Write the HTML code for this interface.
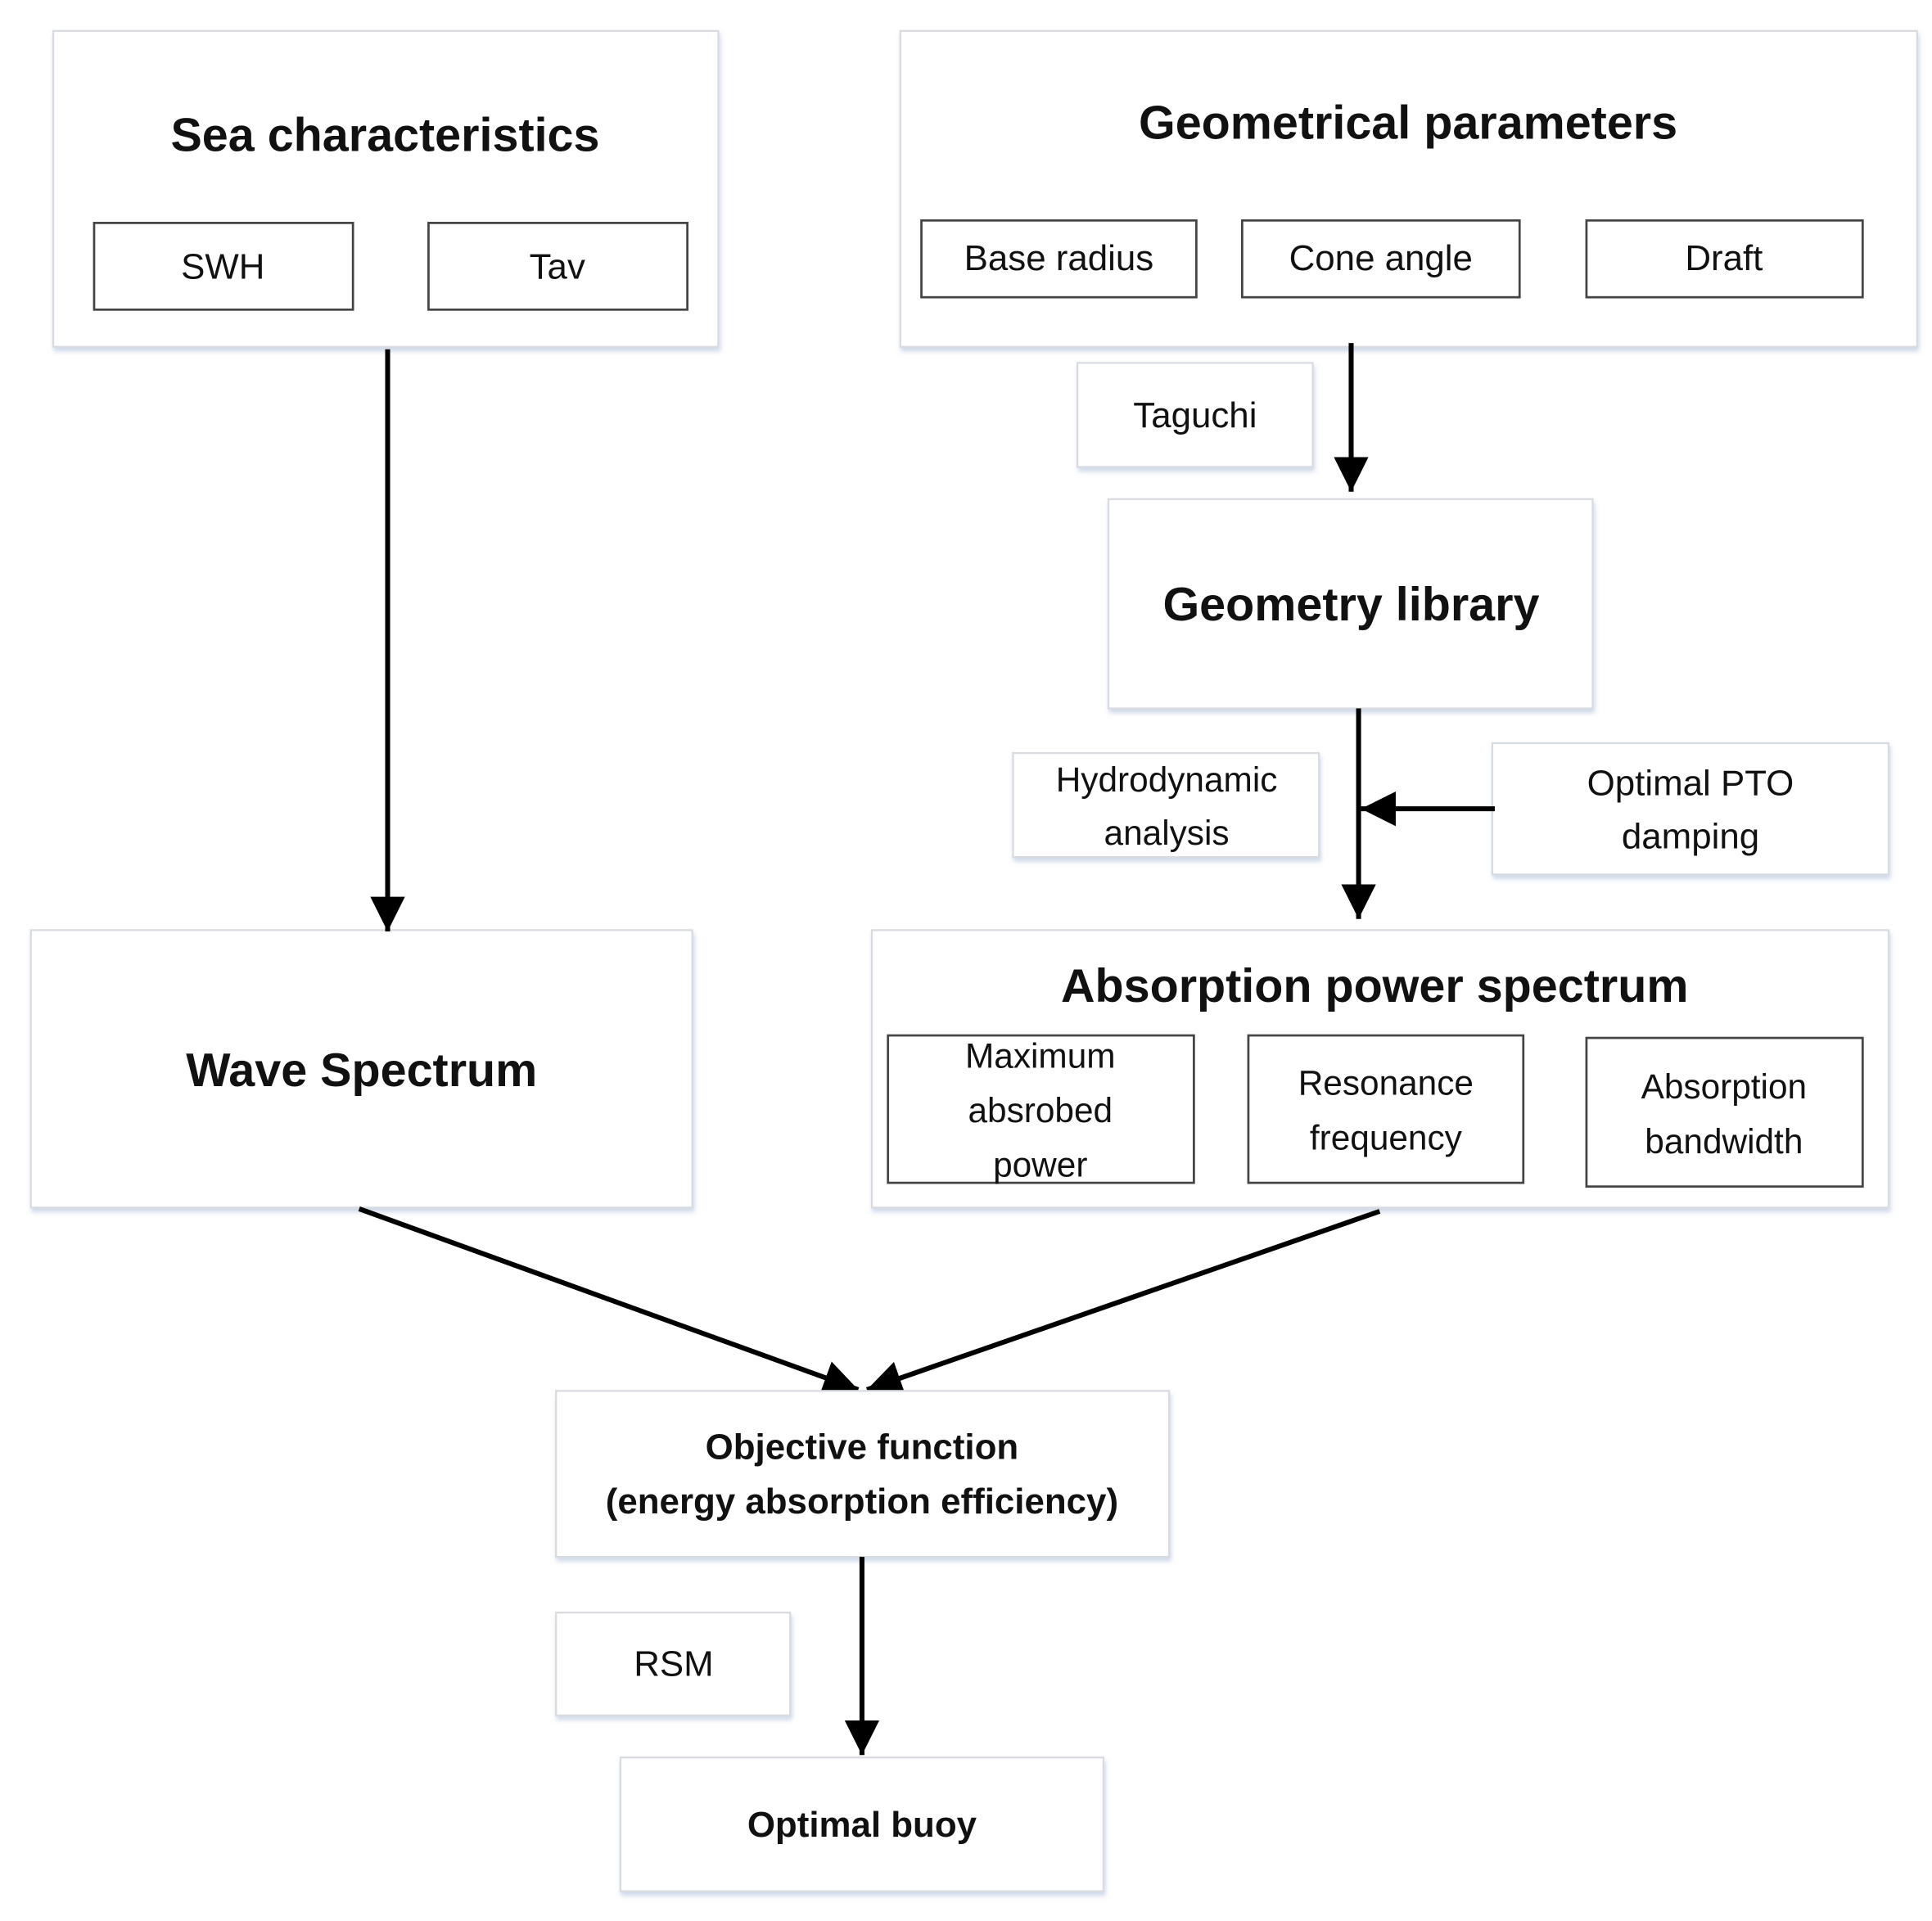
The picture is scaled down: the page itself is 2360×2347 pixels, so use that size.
<!DOCTYPE html>
<html><head><meta charset="utf-8"><style>
html,body{margin:0;padding:0;background:#fff;}
svg{display:block;}
text{font-family:"Liberation Sans",sans-serif;fill:#111;text-anchor:middle;}
.o{fill:#fff;stroke:#d8dbe0;stroke-width:1.5;filter:url(#sh);}
.i{fill:#fff;stroke:#444;stroke-width:1.8;}
.b{font-weight:bold;}
</style></head><body>
<svg width="2360" height="2347" viewBox="0 0 1560 1551" preserveAspectRatio="none" xmlns="http://www.w3.org/2000/svg">
<defs>
<filter id="sh" x="-5%" y="-5%" width="110%" height="115%"><feDropShadow dx="1" dy="3" stdDeviation="2" flood-color="#9fb3d6" flood-opacity="0.5"/></filter>
<marker id="ah" markerWidth="8" markerHeight="8" refX="7" refY="4" orient="auto" markerUnits="strokeWidth"><path d="M0,0.5 L7,4 L0,7.5 Z" fill="#000"/></marker>
</defs>
<rect width="1560" height="1551" fill="#fff"/>
<rect class="o" x="43" y="25" width="537" height="255"/>
<text class="b" x="311" y="122" font-size="38">Sea characteristics</text>
<rect class="i" x="76" y="180" width="209" height="70"/>
<text x="180" y="225" font-size="29">SWH</text>
<rect class="i" x="346" y="180" width="209" height="70"/>
<text x="450" y="225" font-size="29">Tav</text>
<rect class="o" x="727" y="25" width="821" height="255"/>
<text class="b" x="1137" y="112" font-size="38">Geometrical parameters</text>
<rect class="i" x="744" y="178" width="222" height="62"/>
<text x="855" y="218" font-size="29">Base radius</text>
<rect class="i" x="1003" y="178" width="224" height="62"/>
<text x="1115" y="218" font-size="29">Cone angle</text>
<rect class="i" x="1281" y="178" width="223" height="62"/>
<text x="1392" y="218" font-size="29">Draft</text>
<rect class="o" x="870" y="293" width="190" height="84"/>
<text x="965" y="345" font-size="29">Taguchi</text>
<line x1="1091" y1="277" x2="1091" y2="397" stroke="#000" stroke-width="4" marker-end="url(#ah)"/>
<rect class="o" x="895" y="403" width="391" height="169"/>
<text class="b" x="1091" y="501" font-size="38">Geometry library</text>
<rect class="o" x="818" y="608" width="247" height="84"/>
<text x="942" y="639" font-size="28">Hydrodynamic</text>
<text x="942" y="682" font-size="28">analysis</text>
<rect class="o" x="1205" y="600" width="320" height="106"/>
<text x="1365" y="642" font-size="29">Optimal PTO</text>
<text x="1365" y="685" font-size="29">damping</text>
<line x1="1097" y1="572" x2="1097" y2="742" stroke="#000" stroke-width="4" marker-end="url(#ah)"/>
<line x1="1207" y1="653" x2="1099" y2="653" stroke="#000" stroke-width="4" marker-end="url(#ah)"/>
<rect class="o" x="25" y="751" width="534" height="224"/>
<text class="b" x="292" y="877" font-size="38">Wave Spectrum</text>
<line x1="313" y1="282" x2="313" y2="752" stroke="#000" stroke-width="4" marker-end="url(#ah)"/>
<rect class="o" x="704" y="751" width="821" height="224"/>
<text class="b" x="1110" y="809" font-size="38">Absorption power spectrum</text>
<rect class="i" x="717" y="836" width="247" height="119"/>
<text x="840" y="862" font-size="28">Maximum</text>
<text x="840" y="906" font-size="28">absrobed</text>
<text x="840" y="950" font-size="28">power</text>
<rect class="i" x="1008" y="836" width="222" height="119"/>
<text x="1119" y="884" font-size="28">Resonance</text>
<text x="1119" y="928" font-size="28">frequency</text>
<rect class="i" x="1281" y="838" width="223" height="120"/>
<text x="1392" y="887" font-size="28">Absorption</text>
<text x="1392" y="931" font-size="28">bandwidth</text>
<line x1="290" y1="976" x2="693" y2="1122" stroke="#000" stroke-width="4" marker-end="url(#ah)"/>
<line x1="1114" y1="978" x2="700" y2="1122" stroke="#000" stroke-width="4" marker-end="url(#ah)"/>
<rect class="o" x="449" y="1123" width="495" height="134"/>
<text class="b" x="696" y="1178" font-size="29">Objective function</text>
<text class="b" x="696" y="1222" font-size="29">(energy absorption efficiency)</text>
<rect class="o" x="449" y="1302" width="189" height="83"/>
<text x="544" y="1353" font-size="29">RSM</text>
<line x1="696" y1="1257" x2="696" y2="1417" stroke="#000" stroke-width="4" marker-end="url(#ah)"/>
<rect class="o" x="501" y="1419" width="390" height="108"/>
<text class="b" x="696" y="1483" font-size="29">Optimal buoy</text>
</svg>
</body></html>
